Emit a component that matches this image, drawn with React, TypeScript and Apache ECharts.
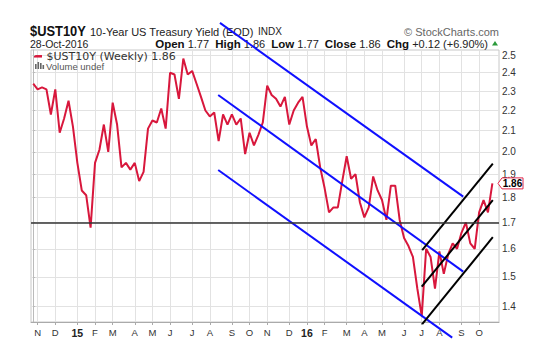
import React, { useEffect, useRef } from "react";
import * as echarts from "echarts";

// Weekly closes (Fridays) of the 10-Year US Treasury Yield, Oct 31 2014 .. Oct 28 2016
const firstFriday = "2014-10-31";
const weekSlots = 106; // one empty slot after the last bar
const yields = [
  2.34, 2.31, 2.32, 2.31, 2.18, 2.31, 2.09, 2.16, 2.25, 2.12,
  1.95, 1.83, 1.81, 1.68, 1.95, 2.01, 2.13, 2.0, 2.24, 2.13,
  1.93, 1.95, 1.92, 1.95, 1.87, 1.91, 2.11, 2.15, 2.14, 2.21,
  2.11, 2.4, 2.39, 2.26, 2.48, 2.39, 2.41, 2.34, 2.27, 2.2,
  2.17, 2.19, 2.05, 2.18, 2.13, 2.18, 2.13, 2.16, 1.99, 2.09,
  2.03, 2.08, 2.14, 2.33, 2.28, 2.26, 2.22, 2.27, 2.13, 2.2,
  2.24, 2.27, 2.12, 2.03, 2.06, 1.93, 1.84, 1.74, 1.76, 1.76,
  1.87, 1.98, 1.88, 1.9, 1.78, 1.72, 1.76, 1.89, 1.83, 1.79,
  1.71, 1.85, 1.85, 1.71, 1.64, 1.61, 1.57, 1.46, 1.37, 1.6,
  1.57, 1.46, 1.59, 1.51, 1.58, 1.62, 1.6, 1.66, 1.7, 1.62,
  1.6, 1.74, 1.79, 1.74, 1.86,
];
const yTicks = [1.4, 1.5, 1.6, 1.7, 1.8, 1.9, 2.0, 2.1, 2.2, 2.3, 2.4, 2.5];
const yRange = [1.3516, 2.529];
const referenceLevel = 1.7;
// trend channels: [[weekIndex, yield], [weekIndex, yield]]
const blueChannel = [
  [[42.3, 2.692], [97.4, 1.804]],
  [[41.9, 2.28], [97.4, 1.518]],
  [[41.9, 1.918], [94.9, 1.304]],
];
const blackChannel = [
  [[88.1, 1.595], [104.1, 1.947]],
  [[88.0, 1.466], [104.1, 1.79]],
  [[88.1, 1.345], [104.1, 1.643]],
];
const quote = { date: "28-Oct-2016", open: "1.77", high: "1.86", low: "1.77", close: "1.86", chg: "+0.12 (+6.90%)" };

const MONTH_LETTERS = "JFMAMJJASOND";

function buildWeeks() {
  const base = Date.parse(firstFriday + "T00:00:00Z");
  const out: Date[] = [];
  for (let i = 0; i < weekSlots; i++) out.push(new Date(base + i * 7 * 86400000));
  return out;
}

export default function App() {
  const ref = useRef<HTMLDivElement>(null);
  useEffect(() => {
    if (!ref.current) return;
    const chart = echarts.init(ref.current, null, { renderer: "svg" });
    const weeks = buildWeeks();
    // month ticks: first week whose Monday lies in a new month
    const monthTicks: number[] = [];
    const monthLabels: Record<number, string> = {};
    let prevMonth = -1;
    weeks.forEach((d, i) => {
      const monday = new Date(d.getTime() - 4 * 86400000);
      const m = monday.getUTCMonth();
      if (prevMonth !== -1 && m !== prevMonth) {
        monthTicks.push(i);
        monthLabels[i] = m === 0 ? "{b|" + String(monday.getUTCFullYear()).slice(2) + "}" : MONTH_LETTERS[m];
      }
      prevMonth = m;
    });
    const lnTicks = yTicks.map((v) => Math.log(v));
    const trend = (seg: number[][], color: string, name: string) => ({
      type: "line",
      name,
      data: seg.map(([i, v]) => [i, Math.log(v)]),
      symbol: "none",
      clip: false,
      silent: true,
      z: 4,
      lineStyle: { color, width: 2 },
    });
    const FONT = "Liberation Sans, Arial, sans-serif";
    chart.setOption({
      animation: false,
      grid: { left: 31, right: 45, top: 50, bottom: 31, show: true, borderColor: "#c8c8c8", borderWidth: 1 },
      xAxis: {
        type: "value",
        min: -0.5,
        max: weekSlots - 0.5,
        axisLine: { show: true, lineStyle: { color: "#aaa" } },
        axisTick: { show: true, customValues: monthTicks, length: 3, lineStyle: { color: "#aaa" } },
        axisLabel: {
          customValues: monthTicks,
          formatter: (v: number) => monthLabels[Math.round(v)] || "",
          color: "#333",
          fontSize: 9.5,
          fontFamily: FONT,
          margin: 5,
          rich: { b: { fontWeight: "bold", fontSize: 10.5, color: "#222", fontFamily: FONT } },
        },
        splitLine: { show: true, lineStyle: { color: "#e2e2e2", width: 1 } },
      },
      yAxis: {
        type: "value",
        position: "right",
        min: Math.log(yRange[0]),
        max: Math.log(yRange[1]),
        axisLine: { show: true, lineStyle: { color: "#bbb" } },
        axisTick: { show: true, customValues: lnTicks, length: 2, lineStyle: { color: "#bbb" } },
        axisLabel: {
          customValues: lnTicks,
          formatter: (v: number) => Math.exp(v).toFixed(1),
          color: "#333",
          fontSize: 10,
          fontFamily: FONT,
          margin: 3,
        },
        splitLine: { show: true, lineStyle: { color: "#e2e2e2", width: 1 } },
      },
      series: [
        {
          type: "line",
          name: "$UST10Y",
          data: yields.map((v, i) => [i, Math.log(v)]),
          symbol: "none",
          z: 3,
          lineStyle: { color: "#d8173c", width: 2 },
          markLine: {
            silent: true,
            symbol: "none",
            label: { show: false },
            lineStyle: { color: "#333", width: 1.5, type: "solid" },
            data: [{ yAxis: Math.log(referenceLevel) }],
          },
        },
        ...blueChannel.map((s, k) => trend(s, "#1010ff", "blue" + k)),
        ...blackChannel.map((s, k) => trend(s, "#000", "black" + k)),
      ],
    });

    const last = yields[yields.length - 1];
    const [rx, py] = chart.convertToPixel({ gridIndex: 0 }, [weekSlots - 0.5, Math.log(last)]) as number[];
    chart.setOption({
      graphic: [
        { type: "text", x: 30, y: 31, scaleX: 0.86, style: { text: "$UST10Y", font: "bold 15px " + FONT, fill: "#111", verticalAlign: "middle" } },
        { type: "text", x: 90, y: 31.5, style: { text: "10-Year US Treasury Yield (EOD)", font: "11px " + FONT, fill: "#222", verticalAlign: "middle" } },
        { type: "text", x: 258, y: 31.5, style: { text: "INDX", font: "10px " + FONT, fill: "#222", verticalAlign: "middle" } },
        { type: "text", x: 499, y: 31.5, style: { text: "© StockCharts.com", font: "11px " + FONT, fill: "#666", align: "right", verticalAlign: "middle" } },
        { type: "text", x: 30, y: 43.5, style: { text: quote.date, font: "10.5px " + FONT, fill: "#222", verticalAlign: "middle" } },
        {
          type: "text",
          x: 488,
          y: 43.5,
          style: {
            text: `{b|Open} ${quote.open}  {b|High} ${quote.high}  {b|Low} ${quote.low}  {b|Close} ${quote.close}  {b|Chg} ${quote.chg}`,
            font: "11px " + FONT,
            fill: "#222",
            align: "right",
            verticalAlign: "middle",
            rich: { b: { fontWeight: "bold", fontSize: 11.5, fontFamily: FONT, fill: "#111" } },
          },
        },
        { type: "polygon", shape: { points: [[492, 45.5], [498, 45.5], [495, 41]] }, style: { fill: "#2a9a3a" } },
        // legend
        { type: "line", shape: { x1: 33, y1: 56.3, x2: 42, y2: 56.3 }, style: { stroke: "#d8173c", lineWidth: 2.5 } },
        { type: "text", x: 46.5, y: 56, style: { text: "$UST10Y (Weekly) " + last.toFixed(2), font: "11px DejaVu Sans, sans-serif", fill: "#333", verticalAlign: "middle" } },
        { type: "rect", shape: { x: 35, y: 64, width: 1.6, height: 5 }, style: { fill: "#666" } },
        { type: "rect", shape: { x: 37.5, y: 62, width: 1.6, height: 7 }, style: { fill: "#666" } },
        { type: "rect", shape: { x: 40, y: 63, width: 1.6, height: 6 }, style: { fill: "#666" } },
        { type: "rect", shape: { x: 42.5, y: 65, width: 1.6, height: 4 }, style: { fill: "#666" } },
        { type: "text", x: 46, y: 66.5, style: { text: "Volume undef", font: "9.5px " + FONT, fill: "#555", verticalAlign: "middle" } },
        // last value tag
        {
          type: "polygon",
          z: 10,
          shape: { points: [[rx - 1, py], [rx + 3, py - 5.5], [rx + 24, py - 5.5], [rx + 24, py + 5.5], [rx + 3, py + 5.5]] },
          style: { fill: "#fff", stroke: "#e0284a", lineWidth: 1 },
        },
        { type: "text", z: 11, x: rx + 13.5, y: py + 0.5, style: { text: last.toFixed(2), font: "bold 10px " + FONT, fill: "#000", align: "center", verticalAlign: "middle" } },
      ],
    });
    return () => chart.dispose();
  }, []);
  return <div ref={ref} style={{ position: "fixed", left: 0, top: 0, width: 544, height: 353, background: "#fff" }} />;
}
